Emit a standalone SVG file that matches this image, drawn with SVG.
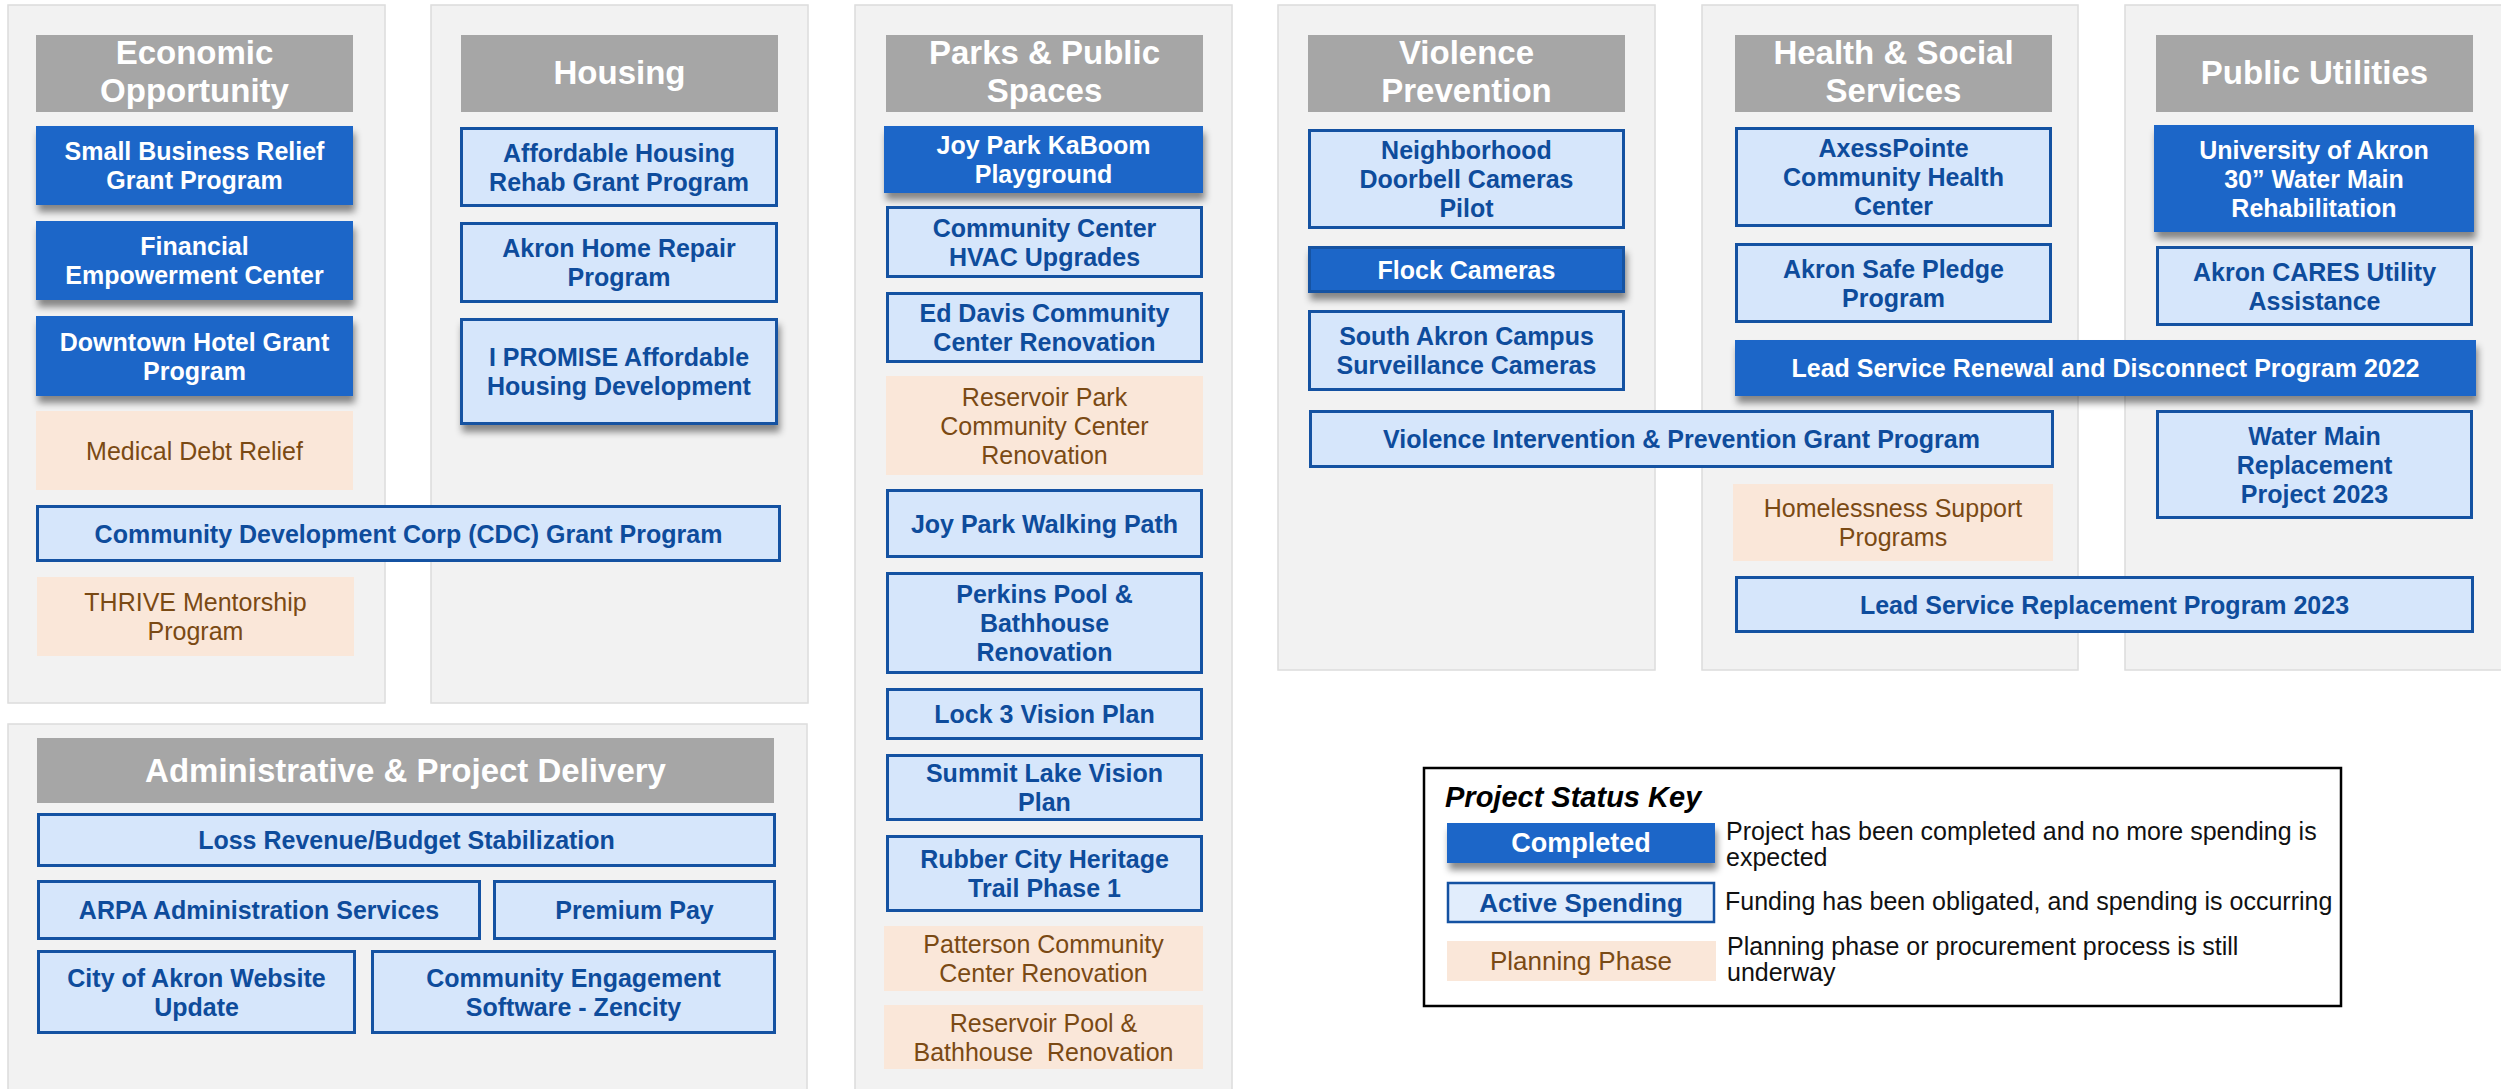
<svg xmlns="http://www.w3.org/2000/svg" width="2501" height="1089" viewBox="0 0 2501 1089">
<defs>
<filter id="sh" x="-10%" y="-30%" width="130%" height="180%">
<feDropShadow dx="2" dy="7" stdDeviation="3.5" flood-color="#000" flood-opacity="0.45"/>
</filter>
<style>
.panel{fill:#F2F2F2;stroke:#DCDCDC;stroke-width:1.5}
.hdr{fill:#A6A6A6}
.ht{font-family:"Liberation Sans",Arial,sans-serif;font-weight:700;font-size:33px;fill:#FFFFFF;text-anchor:middle}
.comp{fill:#1A66C8}
.act{fill:#D6E6FB;stroke:#1452A2;stroke-width:3}
.plan{fill:#FAE7D9}
.shd{filter:url(#sh)}
.t{font-family:"Liberation Sans",Arial,sans-serif;font-size:25px;text-anchor:middle}
.tc{font-weight:700;fill:#FFFFFF}
.ta{font-weight:700;fill:#0E4C9C}
.tp{font-weight:400;fill:#7A4A14}
.lg{font-family:"Liberation Sans",Arial,sans-serif;font-size:25px;fill:#111111}
</style>
</defs>
<rect width="2501" height="1089" fill="#FFFFFF"/>

<g id="panels">
<rect class="panel" x="8" y="5" width="377" height="698"/>
<rect class="panel" x="431" y="5" width="377" height="698"/>
<rect class="panel" x="855" y="5" width="377" height="1095"/>
<rect class="panel" x="1278" y="5" width="377" height="665"/>
<rect class="panel" x="1702" y="5" width="376" height="665"/>
<rect class="panel" x="2125" y="5" width="400" height="665"/>
<rect class="panel" x="8" y="724" width="799" height="380"/>
</g>

<g id="headers">
<g id="hdr-economic"><rect class="hdr" x="36" y="35" width="317" height="77"/><text class="ht"><tspan x="194.5" y="64">Economic</tspan><tspan x="194.5" y="102">Opportunity</tspan></text></g>
<g id="hdr-housing"><rect class="hdr" x="461" y="35" width="317" height="77"/><text class="ht" x="619.5" y="84">Housing</text></g>
<g id="hdr-parks"><rect class="hdr" x="886" y="35" width="317" height="77"/><text class="ht"><tspan x="1044.5" y="64">Parks &amp; Public</tspan><tspan x="1044.5" y="102">Spaces</tspan></text></g>
<g id="hdr-violence"><rect class="hdr" x="1308" y="35" width="317" height="77"/><text class="ht"><tspan x="1466.5" y="64">Violence</tspan><tspan x="1466.5" y="102">Prevention</tspan></text></g>
<g id="hdr-health"><rect class="hdr" x="1735" y="35" width="317" height="77"/><text class="ht"><tspan x="1893.5" y="64">Health &amp; Social</tspan><tspan x="1893.5" y="102">Services</tspan></text></g>
<g id="hdr-utilities"><rect class="hdr" x="2156" y="35" width="317" height="77"/><text class="ht" x="2314.5" y="84">Public Utilities</text></g>
<g id="hdr-admin"><rect class="hdr" x="37" y="738" width="737" height="65"/><text class="ht" x="405.5" y="782">Administrative &amp; Project Delivery</text></g>
</g>

<g id="connectors"></g>

<g id="economic">
<g id="n-small-business"><rect class="comp shd" x="36" y="126" width="317" height="79"/><text class="t tc"><tspan x="194.5" y="160">Small Business Relief</tspan><tspan x="194.5" y="189">Grant Program</tspan></text></g>
<g id="n-financial"><rect class="comp shd" x="36" y="221" width="317" height="79"/><text class="t tc"><tspan x="194.5" y="255">Financial</tspan><tspan x="194.5" y="284">Empowerment Center</tspan></text></g>
<g id="n-downtown"><rect class="comp shd" x="36" y="316" width="317" height="80"/><text class="t tc"><tspan x="194.5" y="350.5">Downtown Hotel Grant</tspan><tspan x="194.5" y="379.5">Program</tspan></text></g>
<g id="n-medical"><rect class="plan" x="36" y="411" width="317" height="79"/><text class="t tp" x="194.5" y="459.5">Medical Debt Relief</text></g>
<g id="n-cdc"><rect class="act" x="37.5" y="506.5" width="742" height="54"/><text class="t ta" x="408.5" y="542.5">Community Development Corp (CDC) Grant Program</text></g>
<g id="n-thrive"><rect class="plan" x="37" y="577" width="317" height="79"/><text class="t tp"><tspan x="195.5" y="611">THRIVE Mentorship</tspan><tspan x="195.5" y="640">Program</tspan></text></g>
</g>

<g id="housing">
<g id="n-affordable"><rect class="act" x="461.5" y="128.5" width="315" height="77"/><text class="t ta"><tspan x="619" y="161.5">Affordable Housing</tspan><tspan x="619" y="190.5">Rehab Grant Program</tspan></text></g>
<g id="n-home-repair"><rect class="act" x="461.5" y="223.5" width="315" height="78"/><text class="t ta"><tspan x="619" y="257">Akron Home Repair</tspan><tspan x="619" y="286">Program</tspan></text></g>
<g id="n-ipromise"><rect class="act shd" x="461.5" y="319.5" width="315" height="104"/><text class="t ta"><tspan x="619" y="366">I PROMISE Affordable</tspan><tspan x="619" y="395">Housing Development</tspan></text></g>
</g>

<g id="parks">
<g id="n-kaboom"><rect class="comp shd" x="884" y="126" width="319" height="67"/><text class="t tc"><tspan x="1043.5" y="154">Joy Park KaBoom</tspan><tspan x="1043.5" y="183">Playground</tspan></text></g>
<g id="n-hvac"><rect class="act" x="887.5" y="207.5" width="314" height="69"/><text class="t ta"><tspan x="1044.5" y="236.5">Community Center</tspan><tspan x="1044.5" y="265.5">HVAC Upgrades</tspan></text></g>
<g id="n-eddavis"><rect class="act" x="887.5" y="293.5" width="314" height="68"/><text class="t ta"><tspan x="1044.5" y="322">Ed Davis Community</tspan><tspan x="1044.5" y="351">Center Renovation</tspan></text></g>
<g id="n-reservoir-park"><rect class="plan" x="886" y="376" width="317" height="99"/><text class="t tp"><tspan x="1044.5" y="405.5">Reservoir Park</tspan><tspan x="1044.5" y="434.5">Community Center</tspan><tspan x="1044.5" y="463.5">Renovation</tspan></text></g>
<g id="n-walking"><rect class="act" x="887.5" y="490.5" width="314" height="66"/><text class="t ta" x="1044.5" y="532.5">Joy Park Walking Path</text></g>
<g id="n-perkins"><rect class="act" x="887.5" y="573.5" width="314" height="99"/><text class="t ta"><tspan x="1044.5" y="603">Perkins Pool &amp;</tspan><tspan x="1044.5" y="632">Bathhouse</tspan><tspan x="1044.5" y="661">Renovation</tspan></text></g>
<g id="n-lock3"><rect class="act" x="887.5" y="689.5" width="314" height="49"/><text class="t ta" x="1044.5" y="723">Lock 3 Vision Plan</text></g>
<g id="n-summit"><rect class="act" x="887.5" y="755.5" width="314" height="64"/><text class="t ta"><tspan x="1044.5" y="782">Summit Lake Vision</tspan><tspan x="1044.5" y="811">Plan</tspan></text></g>
<g id="n-rubber"><rect class="act" x="887.5" y="836.5" width="314" height="74"/><text class="t ta"><tspan x="1044.5" y="868">Rubber City Heritage</tspan><tspan x="1044.5" y="897">Trail Phase 1</tspan></text></g>
<g id="n-patterson"><rect class="plan" x="884" y="926" width="319" height="65"/><text class="t tp"><tspan x="1043.5" y="953">Patterson Community</tspan><tspan x="1043.5" y="982">Center Renovation</tspan></text></g>
<g id="n-reservoir-pool"><rect class="plan" x="884" y="1005" width="319" height="64"/><text class="t tp" xml:space="preserve"><tspan x="1043.5" y="1031.5">Reservoir Pool &amp;</tspan><tspan x="1043.5" y="1060.5">Bathhouse  Renovation</tspan></text></g>
</g>

<g id="violence">
<g id="n-doorbell"><rect class="act" x="1309.5" y="130.5" width="314" height="97"/><text class="t ta"><tspan x="1466.5" y="159">Neighborhood</tspan><tspan x="1466.5" y="188">Doorbell Cameras</tspan><tspan x="1466.5" y="217">Pilot</tspan></text></g>
<g id="n-flock"><rect class="comp shd" x="1309.5" y="247.5" width="314" height="44" stroke="#1452A2" stroke-width="3"/><text class="t tc" x="1466.5" y="278.5">Flock Cameras</text></g>
<g id="n-southakron"><rect class="act" x="1309.5" y="311.5" width="314" height="78"/><text class="t ta"><tspan x="1466.5" y="345">South Akron Campus</tspan><tspan x="1466.5" y="374">Surveillance Cameras</tspan></text></g>
<g id="n-vip"><rect class="act" x="1310.5" y="411.5" width="742" height="55"/><text class="t ta" x="1681.5" y="448">Violence Intervention &amp; Prevention Grant Program</text></g>
</g>

<g id="health">
<g id="n-axess"><rect class="act" x="1736.5" y="128.5" width="314" height="97"/><text class="t ta"><tspan x="1893.5" y="157">AxessPointe</tspan><tspan x="1893.5" y="186">Community Health</tspan><tspan x="1893.5" y="215">Center</tspan></text></g>
<g id="n-safepledge"><rect class="act" x="1736.5" y="244.5" width="314" height="77"/><text class="t ta"><tspan x="1893.5" y="277.5">Akron Safe Pledge</tspan><tspan x="1893.5" y="306.5">Program</tspan></text></g>
<g id="n-lead2022"><rect class="comp shd" x="1735" y="340" width="741" height="56"/><text class="t tc" x="2105.5" y="377">Lead Service Renewal and Disconnect Program 2022</text></g>
<g id="n-homeless"><rect class="plan" x="1733" y="484" width="320" height="77"/><text class="t tp"><tspan x="1893" y="517">Homelessness Support</tspan><tspan x="1893" y="546">Programs</tspan></text></g>
<g id="n-lead2023"><rect class="act" x="1736.5" y="577.5" width="736" height="54"/><text class="t ta" x="2104.5" y="613.5">Lead Service Replacement Program 2023</text></g>
</g>

<g id="utilities">
<g id="n-uakron"><rect class="comp shd" x="2154" y="125" width="320" height="107"/><text class="t tc"><tspan x="2314" y="158.5">University of Akron</tspan><tspan x="2314" y="187.5">30” Water Main</tspan><tspan x="2314" y="216.5">Rehabilitation</tspan></text></g>
<g id="n-cares"><rect class="act" x="2157.5" y="247.5" width="314" height="77"/><text class="t ta"><tspan x="2314.5" y="280.5">Akron CARES Utility</tspan><tspan x="2314.5" y="309.5">Assistance</tspan></text></g>
<g id="n-watermain"><rect class="act" x="2157.5" y="411.5" width="314" height="106"/><text class="t ta"><tspan x="2314.5" y="444.5">Water Main</tspan><tspan x="2314.5" y="473.5">Replacement</tspan><tspan x="2314.5" y="502.5">Project 2023</tspan></text></g>
</g>

<g id="admin">
<g id="n-loss"><rect class="act" x="38.5" y="814.5" width="736" height="51"/><text class="t ta" x="406.5" y="849">Loss Revenue/Budget Stabilization</text></g>
<g id="n-arpa"><rect class="act" x="38.5" y="881.5" width="441" height="57"/><text class="t ta" x="259" y="919">ARPA Administration Services</text></g>
<g id="n-premium"><rect class="act" x="494.5" y="881.5" width="280" height="57"/><text class="t ta" x="634.5" y="919">Premium Pay</text></g>
<g id="n-website"><rect class="act" x="38.5" y="951.5" width="316" height="81"/><text class="t ta"><tspan x="196.5" y="986.5">City of Akron Website</tspan><tspan x="196.5" y="1015.5">Update</tspan></text></g>
<g id="n-zencity"><rect class="act" x="372.5" y="951.5" width="402" height="81"/><text class="t ta"><tspan x="573.5" y="986.5">Community Engagement</tspan><tspan x="573.5" y="1015.5">Software - Zencity</tspan></text></g>
</g>

<g id="legend">
<rect x="1424" y="768" width="917" height="238" fill="#FFFFFF" stroke="#000000" stroke-width="2.5"/>
<text x="1445" y="807" font-family="Liberation Sans, Arial, sans-serif" font-size="29" font-weight="700" font-style="italic" fill="#000000">Project Status Key</text>
<g id="key-completed"><rect class="comp shd" x="1447" y="823" width="268" height="40"/><text x="1581" y="852" font-family="Liberation Sans, Arial, sans-serif" font-size="27" font-weight="700" fill="#FFFFFF" text-anchor="middle">Completed</text></g>
<g id="key-active"><rect x="1448" y="883" width="266" height="39" fill="#E1EDFC" stroke="#1452A2" stroke-width="2.5"/><text x="1581" y="912" font-family="Liberation Sans, Arial, sans-serif" font-size="26" font-weight="700" fill="#0E4C9C" text-anchor="middle">Active Spending</text></g>
<g id="key-planning"><rect class="plan" x="1447" y="941" width="269" height="40"/><text x="1581" y="970" font-family="Liberation Sans, Arial, sans-serif" font-size="26" fill="#7A4A14" text-anchor="middle">Planning Phase</text></g>
<text class="lg"><tspan x="1726" y="840">Project has been completed and no more spending is</tspan><tspan x="1726" y="866">expected</tspan></text>
<text class="lg" x="1725" y="910">Funding has been obligated, and spending is occurring</text>
<text class="lg"><tspan x="1727" y="955">Planning phase or procurement process is still</tspan><tspan x="1727" y="981">underway</tspan></text>
</g>
</svg>
